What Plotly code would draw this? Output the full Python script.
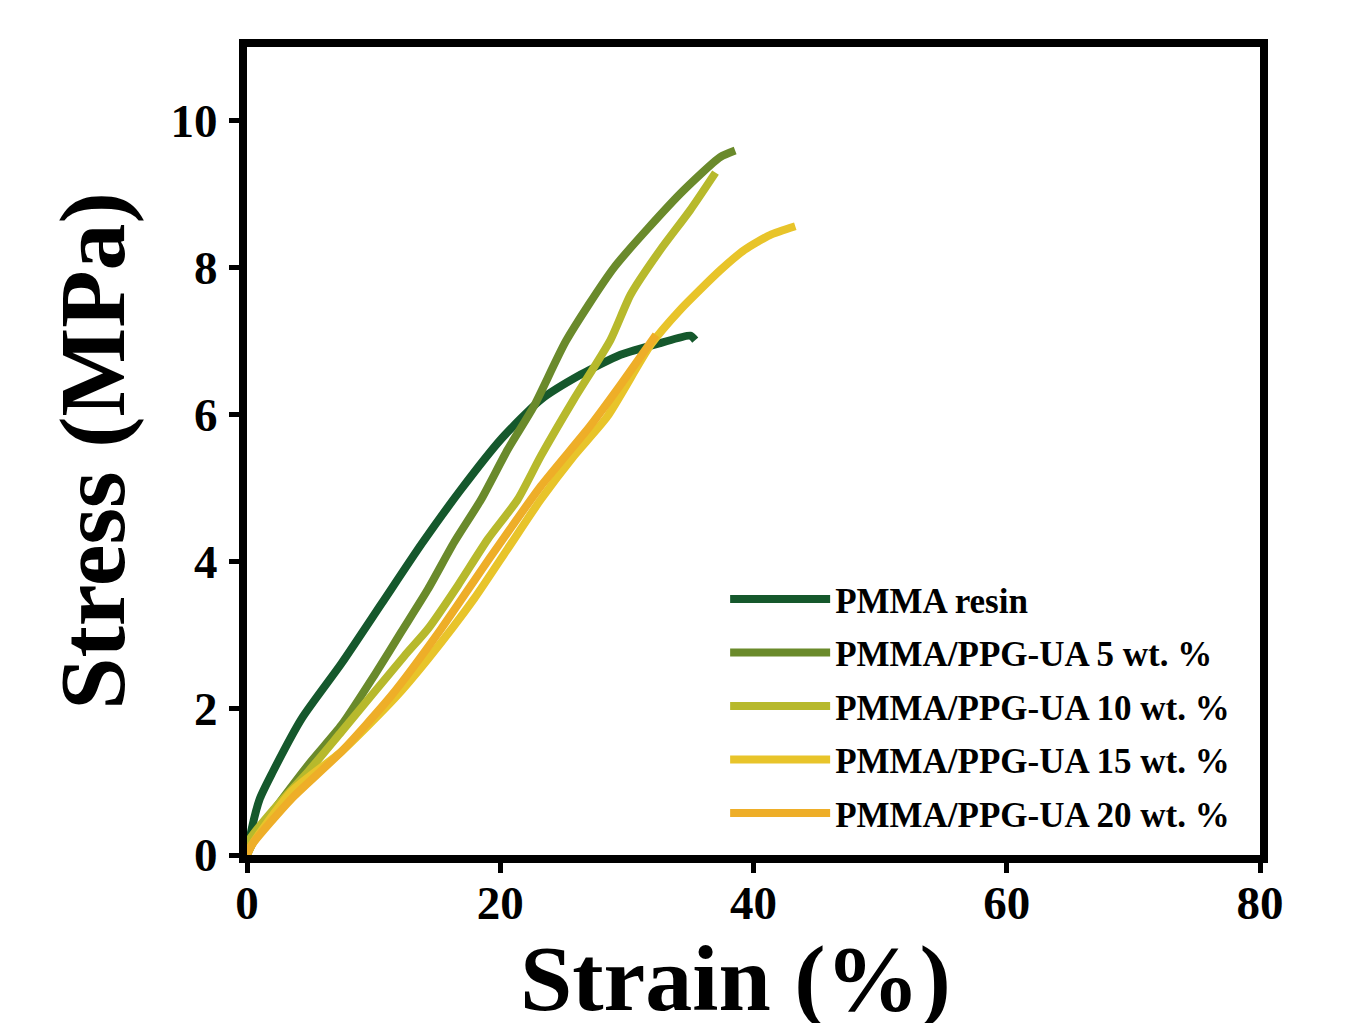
import plotly.graph_objects as go

# Strain (%) / Stress (MPa)
resin_x = [0, 0.39, 1.02, 1.97, 4.33, 7.47, 10.62, 13.77, 16.92, 20.06, 23.21, 26.36, 29.5, 32.65, 35.0, 35.4]
resin_y = [0, 0.37, 0.77, 1.11, 1.86, 2.61, 3.42, 4.23, 4.98, 5.66, 6.20, 6.54, 6.81, 6.97, 7.07, 7.01]

ua5_x = [0, 0.92, 4.85, 7.47, 10.07, 12.2, 14.3, 16.37, 18.49, 20.59, 22.66, 25.2, 29.0, 34.2, 37.37, 38.55]
ua5_y = [0, 0.32, 1.23, 1.77, 2.45, 3.04, 3.62, 4.26, 4.84, 5.52, 6.11, 7.0, 8.0, 9.0, 9.5, 9.59]

ua10_x = [0, 0.13, 2.2, 4.85, 7.47, 12.43, 14.3, 16.66, 19.02, 21.38, 23.2, 25.8, 28.7, 30.3, 32.65, 35.0, 37.0]
ua10_y = [0, 0.19, 0.64, 1.14, 1.68, 2.71, 3.08, 3.67, 4.30, 4.84, 5.43, 6.2, 7.01, 7.63, 8.24, 8.78, 9.29]

ua15_x = [0, 0.39, 3.54, 7.47, 11.64, 14.3, 17.94, 20.59, 23.2, 25.8, 28.46, 31.9, 34.2, 37.37, 39.3, 41.3, 43.3]
ua15_y = [0, 0.14, 0.87, 1.41, 2.13, 2.67, 3.49, 4.17, 4.84, 5.43, 5.97, 6.95, 7.42, 7.96, 8.24, 8.44, 8.56]

ua20_x = [0, 0.39, 3.54, 7.47, 11.4, 15.34, 19.28, 23.2, 27.1, 29.5, 32.3]
ua20_y = [0, 0.14, 0.77, 1.41, 2.17, 3.08, 4.07, 5.02, 5.84, 6.4, 7.08]

names = ["PMMA resin", "PMMA/PPG-UA 5 wt. %", "PMMA/PPG-UA 10 wt. %",
         "PMMA/PPG-UA 15 wt. %", "PMMA/PPG-UA 20 wt. %"]
colors = ["#15582c", "#6a8a2b", "#b7b92c", "#e8c42a", "#eeae28"]

x_ticks = [0, 20, 40, 60, 80]
y_ticks = [0, 2, 4, 6, 8, 10]
x_title = "Strain (%)"
y_title = "Stress (MPa)"

FONT = "Liberation Serif, Times New Roman, serif"

fig = go.Figure()
series = [(resin_x, resin_y), (ua5_x, ua5_y), (ua10_x, ua10_y), (ua15_x, ua15_y), (ua20_x, ua20_y)]
for i, ((xs, ys), n, c) in enumerate(zip(series, names, colors)):
    fig.add_trace(go.Scatter(x=xs, y=ys, mode="lines", name=n, legendgroup=str(i),
                             line=dict(color=c, width=8, shape="spline", smoothing=0.6)))

axis_common = dict(
    showline=True, linewidth=8, linecolor="black", mirror=True,
    ticks="outside", ticklen=10, tickwidth=5, tickcolor="black",
    showgrid=False, zeroline=False, automargin=False,
    tickfont=dict(family=FONT, size=47, color="black", weight="bold"),
)

fig.update_xaxes(range=[0, 80], tickvals=x_ticks, ticklabelstandoff=-10, **axis_common)
fig.update_yaxes(range=[0, 11], tickvals=y_ticks, ticklabelstandoff=2,
                 title=dict(text=y_title, standoff=18,
                            font=dict(family=FONT, size=94, color="black", weight="bold")),
                 **axis_common)

fig.add_annotation(text=x_title, xref="paper", yref="paper", x=0.4827, y=-0.152,
                   xanchor="center", yanchor="middle", showarrow=False,
                   font=dict(family=FONT, size=94, color="black", weight="bold"))

fig.update_layout(
    width=1347, height=1015,
    margin=dict(l=239, r=95, t=39, b=168),
    plot_bgcolor="white", paper_bgcolor="white",
    legend=dict(x=0.472, y=0.353, xanchor="left", yanchor="top",
                bgcolor="rgba(0,0,0,0)", borderwidth=0,
                itemwidth=100, tracegroupgap=5, traceorder="grouped",
                font=dict(family=FONT, size=35, color="black", weight="bold")),
)

fig.write_html("out.html")
